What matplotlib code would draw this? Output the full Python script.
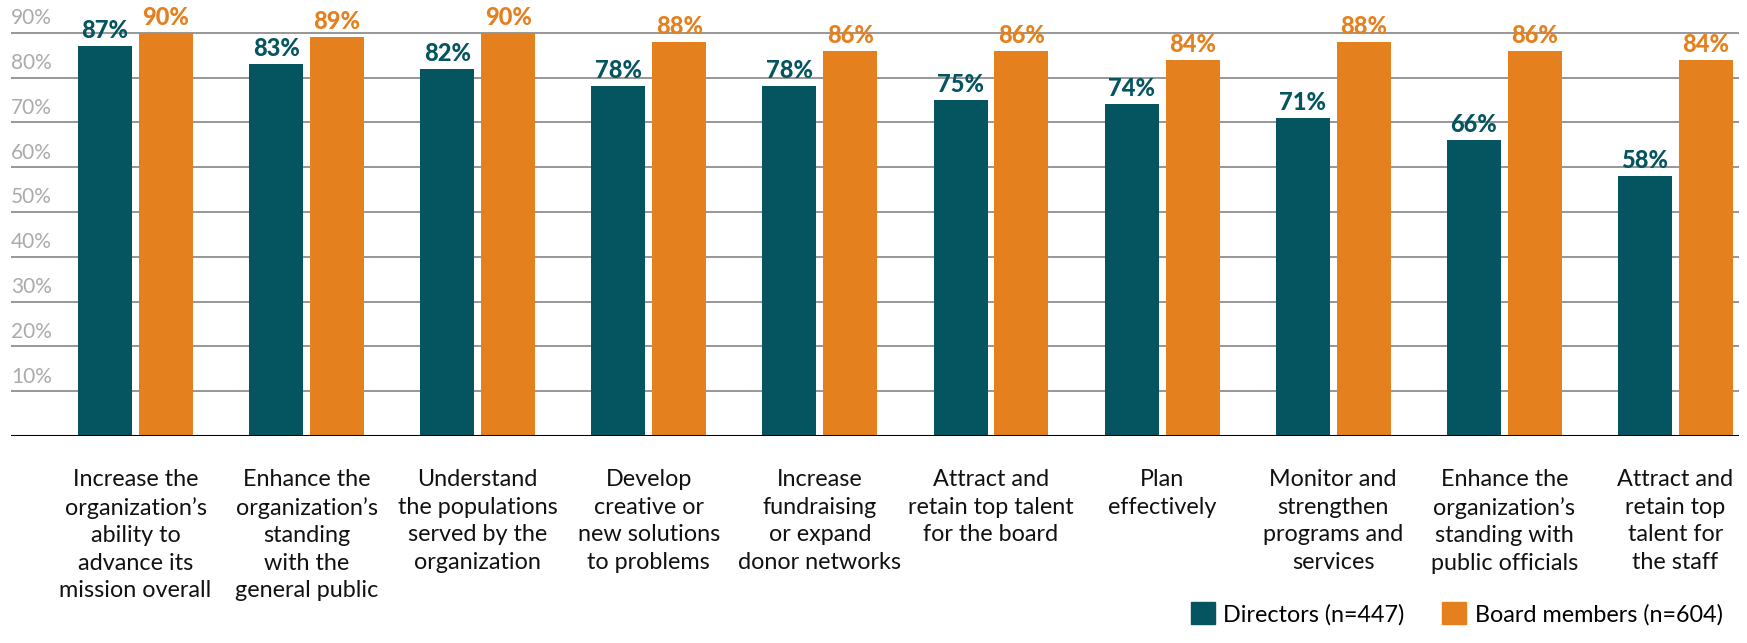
import matplotlib
matplotlib.use("Agg")
import matplotlib.pyplot as plt
from matplotlib.patches import Patch
from matplotlib.transforms import blended_transform_factory
import numpy as np

plt.rcParams['font.family'] = ['Lato', 'DejaVu Sans']

categories = [
    "Increase the\norganization\u2019s\nability to\nadvance its\nmission overall",
    "Enhance the\norganization\u2019s\nstanding\nwith the\ngeneral public",
    "Understand\nthe populations\nserved by the\norganization",
    "Develop\ncreative or\nnew solutions\nto problems",
    "Increase\nfundraising\nor expand\ndonor networks",
    "Attract and\nretain top talent\nfor the board",
    "Plan\neffectively",
    "Monitor and\nstrengthen\nprograms and\nservices",
    "Enhance the\norganization\u2019s\nstanding with\npublic officials",
    "Attract and\nretain top\ntalent for\nthe staff",
]
directors = [87, 83, 82, 78, 78, 75, 74, 71, 66, 58]
board = [90, 89, 90, 88, 86, 86, 84, 88, 86, 84]
series_names = ["Directors (n=447)", "Board members (n=604)"]
y_ticks = [10, 20, 30, 40, 50, 60, 70, 80, 90]

TEAL = "#04555F"
ORANGE = "#E5801F"

W, H = 1747, 643
fig = plt.figure(figsize=(W / 100, H / 100), dpi=100)
ax = fig.add_axes([11 / W, 1 - 436 / H, (1739 - 11) / W, 436 / H])

x = np.arange(len(categories))
bw = 0.316
off = 0.178

for t in y_ticks:
    ax.axhline(t, color="#8f8f8f", lw=1.3, zorder=1)
tr = blended_transform_factory(ax.transAxes, ax.transData)
for t in y_ticks:
    ax.text(0, t + 1.0, f"{t}%", transform=tr, ha="left", va="bottom",
            fontsize=15, color="#ababab", zorder=2)

ax.bar(x - off, directors, width=bw, color=TEAL, zorder=3)
ax.bar(x + off, board, width=bw, color=ORANGE, zorder=3)

for xi, v in zip(x - off, directors):
    ax.text(xi, v + 0.9, f"{v}%", ha="center", va="bottom", fontsize=17,
            fontweight=900, color=TEAL, zorder=4)
for xi, v in zip(x + off, board):
    ax.text(xi, v + 0.9, f"{v}%", ha="center", va="bottom", fontsize=17,
            fontweight=900, color=ORANGE, zorder=4)

ax.axhline(0, color="black", lw=2.2, zorder=5)

ax.set_xlim(-0.728, 9.372)
ax.set_ylim(0, 97.3)
for s in ax.spines.values():
    s.set_visible(False)
ax.set_yticks([])
ax.set_xticks(x)
ax.set_xticklabels(categories, fontsize=16.8, color="#111111", linespacing=1.38)
ax.tick_params(axis="x", length=0, pad=24)

handles = [Patch(color=TEAL), Patch(color=ORANGE)]
fig.legend(handles, series_names, loc="lower right", bbox_to_anchor=(0.998, -0.005),
           ncol=2, frameon=False, fontsize=16.8, handlelength=1.05, handleheight=1.05,
           handletextpad=0.35, columnspacing=1.6)

fig.savefig("out.png", dpi=100)
